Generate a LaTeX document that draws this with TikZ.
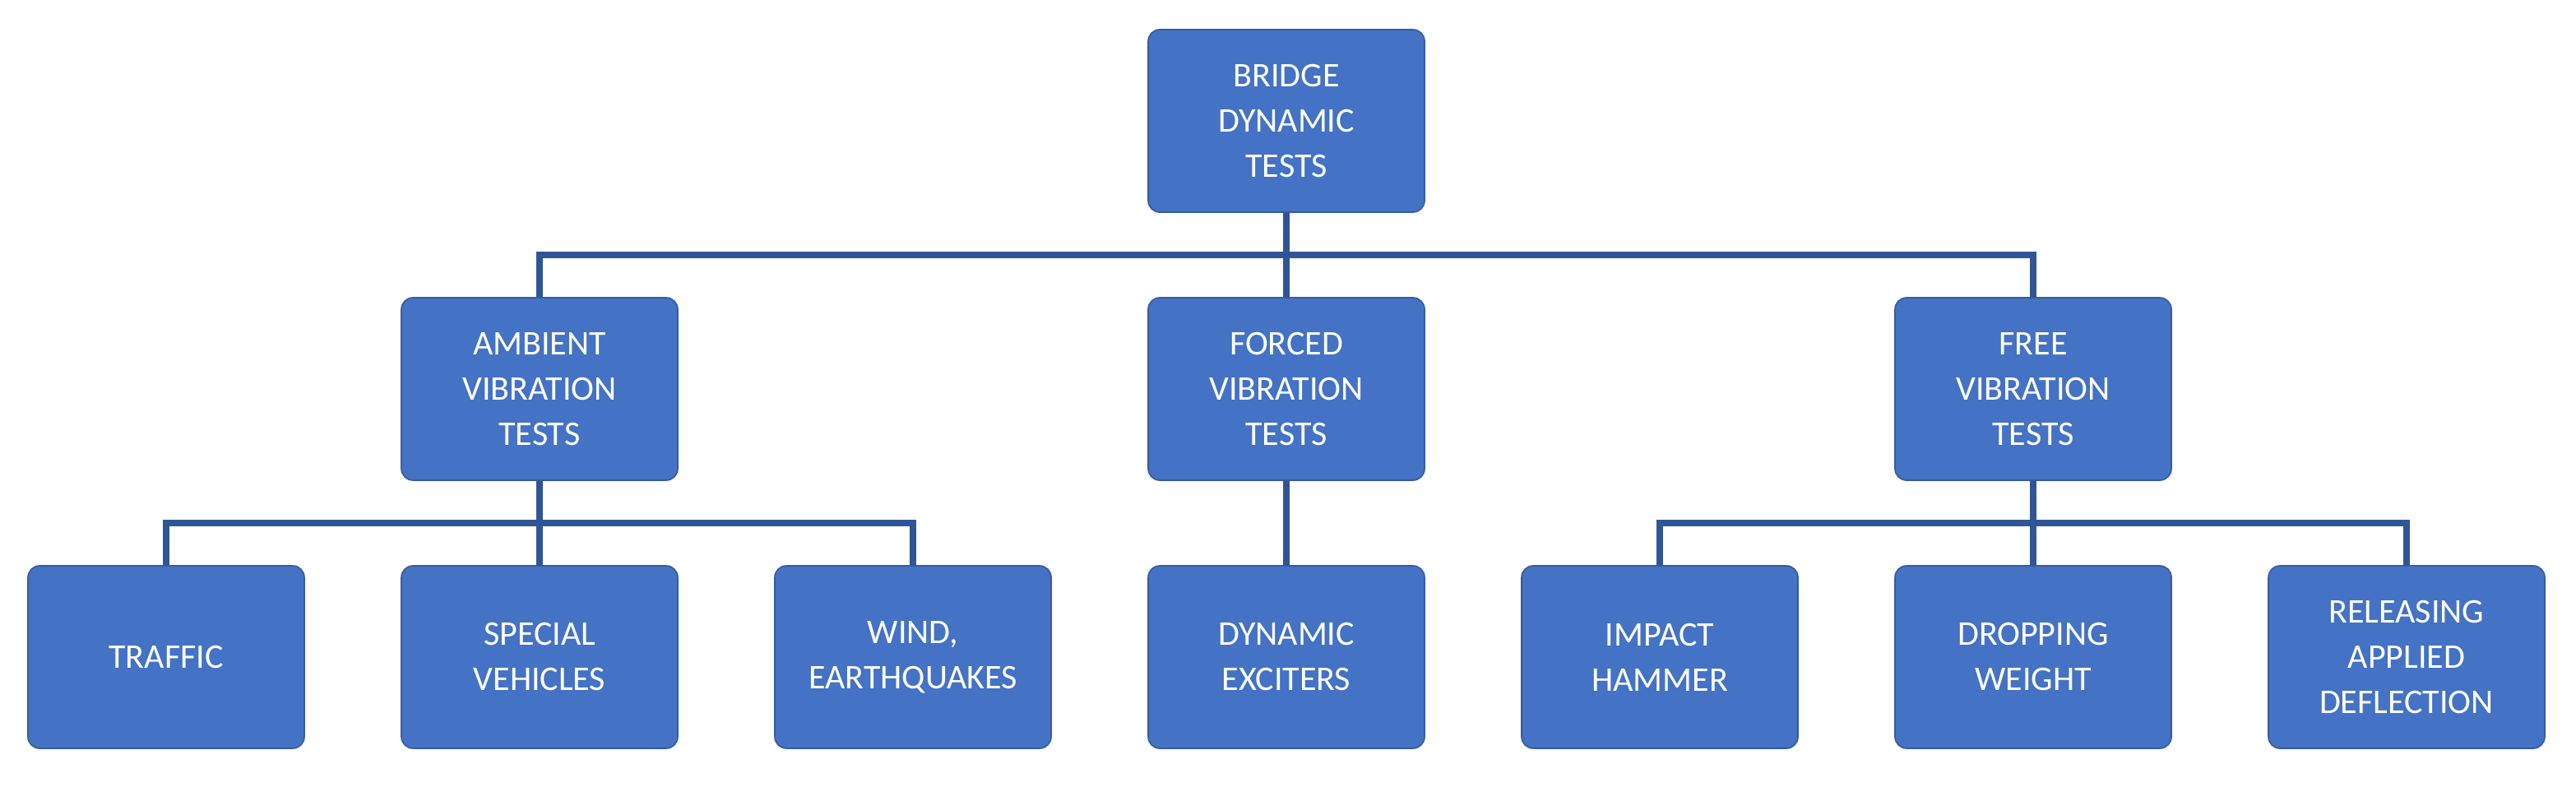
\documentclass[tikz,border=0pt]{standalone}
\usepackage{fontspec}
\setmainfont{Carlito}
\begin{document}
\begin{tikzpicture}[x=1pt,y=-1pt,
  box/.style={fill=boxblue,draw=boxblue!80!black,line width=0.8pt,rounded corners=7pt,minimum width=168pt,minimum height=111pt,text width=160pt,align=center,text=white,font=\fontsize{21}{27.5}\selectfont,inner sep=0pt},
  conn/.style={draw=lineblue,line width=4pt}]
\definecolor{boxblue}{HTML}{4472C4}
\definecolor{lineblue}{HTML}{2F5597}
\useasboundingbox (0,0) rectangle (1566,478.5);
\node[box] (top) at (782,73.5) {BRIDGE\\DYNAMIC\\TESTS};
\node[box] (amb) at (328,236.5) {AMBIENT\\VIBRATION\\TESTS};
\node[box] (forc) at (782,236.5) {FORCED\\VIBRATION\\TESTS};
\node[box] (free) at (1236,236.5) {FREE\\VIBRATION\\TESTS};
\node[box] (traf) at (101,399.5) {TRAFFIC};
\node[box] (spec) at (328,399.5) {SPECIAL\\VEHICLES};
\node[box] (wind) at (555,399.5) {WIND,\\EARTHQUAKES};
\node[box] (dyn) at (782,399.5) {DYNAMIC\\EXCITERS};
\node[box] (imp) at (1009,399.5) {IMPACT\\HAMMER};
\node[box] (drop) at (1236,399.5) {DROPPING\\WEIGHT};
\node[box] (rel) at (1463,399.5) {RELEASING\\APPLIED\\DEFLECTION};
\coordinate (b1) at (782,155);
\coordinate (b2) at (328,318);
\coordinate (b3) at (1236,318);
\path[conn] (top.south) -- (b1);
\path[conn] (amb.north) |- (b1) -| (free.north);
\path[conn] (b1) -- (forc.north);
\path[conn] (amb.south) -- (spec.north);
\path[conn] (traf.north) |- (b2) -| (wind.north);
\path[conn] (forc.south) -- (dyn.north);
\path[conn] (free.south) -- (drop.north);
\path[conn] (imp.north) |- (b3) -| (rel.north);
\end{tikzpicture}
\end{document}
